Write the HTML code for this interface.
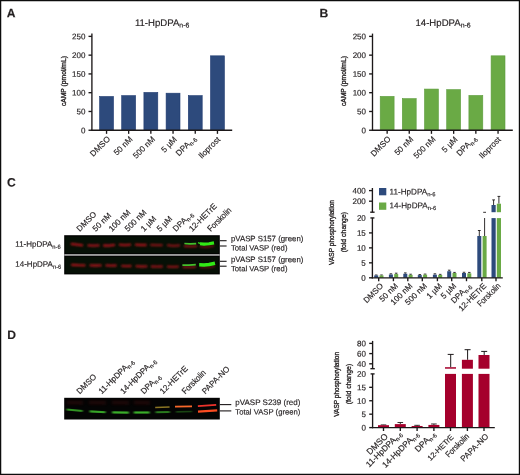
<!DOCTYPE html>
<html><head><meta charset="utf-8"><title>Figure</title>
<style>
html,body{margin:0;padding:0;background:#fff;}
body{width:520px;height:475px;overflow:hidden;}
svg{display:block;font-family:"Liberation Sans",sans-serif;will-change:transform;}
text{stroke:#231f20;stroke-width:0.16px;}
</style></head><body>
<svg width="520" height="475" viewBox="0 0 520 475">
<rect x="0" y="0" width="520" height="475" fill="#fff"/>
<text transform="translate(6.8,17.25) rotate(0.03)" font-size="12.1" text-anchor="start" font-weight="bold" fill="#231f20">A</text>
<text transform="translate(134.9,26) rotate(0.03)" font-size="9.6" text-anchor="start" fill="#231f20">11-HpDPA<tspan font-size="6.9" dy="1.4">n-6</tspan></text>
<rect x="99.60" y="96.49" width="13.90" height="33.76" fill="#2d4a7c" stroke="#1e3a70" stroke-width="0.6"/>
<rect x="121.70" y="95.63" width="13.90" height="34.62" fill="#2d4a7c" stroke="#1e3a70" stroke-width="0.6"/>
<rect x="143.90" y="92.44" width="13.90" height="37.81" fill="#2d4a7c" stroke="#1e3a70" stroke-width="0.6"/>
<rect x="166.10" y="93.19" width="13.90" height="37.06" fill="#2d4a7c" stroke="#1e3a70" stroke-width="0.6"/>
<rect x="188.30" y="95.63" width="13.90" height="34.62" fill="#2d4a7c" stroke="#1e3a70" stroke-width="0.6"/>
<rect x="210.50" y="55.83" width="13.90" height="74.42" fill="#2d4a7c" stroke="#1e3a70" stroke-width="0.6"/>
<line x1="91.9" y1="33.6" x2="91.9" y2="130.85" stroke="#1c1819" stroke-width="1.35" stroke-linecap="butt"/>
<line x1="91.30000000000001" y1="130.25" x2="232.2" y2="130.25" stroke="#1c1819" stroke-width="1.35" stroke-linecap="butt"/>
<line x1="88.5" y1="130.25" x2="91.9" y2="130.25" stroke="#1c1819" stroke-width="1.35" stroke-linecap="butt"/>
<text transform="translate(85.4,133.15) rotate(0.03)" font-size="8" text-anchor="end" fill="#231f20">0</text>
<line x1="88.5" y1="111.475" x2="91.9" y2="111.475" stroke="#1c1819" stroke-width="1.35" stroke-linecap="butt"/>
<text transform="translate(85.4,114.375) rotate(0.03)" font-size="8" text-anchor="end" fill="#231f20">50</text>
<line x1="88.5" y1="92.7" x2="91.9" y2="92.7" stroke="#1c1819" stroke-width="1.35" stroke-linecap="butt"/>
<text transform="translate(85.4,95.60000000000001) rotate(0.03)" font-size="8" text-anchor="end" fill="#231f20">100</text>
<line x1="88.5" y1="73.925" x2="91.9" y2="73.925" stroke="#1c1819" stroke-width="1.35" stroke-linecap="butt"/>
<text transform="translate(85.4,76.825) rotate(0.03)" font-size="8" text-anchor="end" fill="#231f20">150</text>
<line x1="88.5" y1="55.150000000000006" x2="91.9" y2="55.150000000000006" stroke="#1c1819" stroke-width="1.35" stroke-linecap="butt"/>
<text transform="translate(85.4,58.050000000000004) rotate(0.03)" font-size="8" text-anchor="end" fill="#231f20">200</text>
<line x1="88.5" y1="36.375" x2="91.9" y2="36.375" stroke="#1c1819" stroke-width="1.35" stroke-linecap="butt"/>
<text transform="translate(85.4,39.275) rotate(0.03)" font-size="8" text-anchor="end" fill="#231f20">250</text>
<line x1="106.55" y1="130.25" x2="106.55" y2="133.85" stroke="#1c1819" stroke-width="1.35" stroke-linecap="butt"/>
<text transform="translate(110.65,139.55) rotate(-45)" font-size="8.2" text-anchor="end" fill="#231f20">DMSO</text>
<line x1="128.65" y1="130.25" x2="128.65" y2="133.85" stroke="#1c1819" stroke-width="1.35" stroke-linecap="butt"/>
<text transform="translate(133.15,139.75) rotate(-45)" font-size="8.2" text-anchor="end" fill="#231f20">50 nM</text>
<line x1="150.85" y1="130.25" x2="150.85" y2="133.85" stroke="#1c1819" stroke-width="1.35" stroke-linecap="butt"/>
<text transform="translate(155.55,139.75) rotate(-45)" font-size="8.2" text-anchor="end" fill="#231f20">500 nM</text>
<line x1="173.05" y1="130.25" x2="173.05" y2="133.85" stroke="#1c1819" stroke-width="1.35" stroke-linecap="butt"/>
<text transform="translate(177.45,139.95) rotate(-45)" font-size="8.2" text-anchor="end" fill="#231f20">5 µM</text>
<line x1="195.25" y1="130.25" x2="195.25" y2="133.85" stroke="#1c1819" stroke-width="1.35" stroke-linecap="butt"/>
<text transform="translate(196.55,138.95) rotate(-45)" font-size="8.2" text-anchor="end" fill="#231f20">DPA<tspan font-size="5.9" dy="1.8">n-6</tspan></text>
<line x1="217.45" y1="130.25" x2="217.45" y2="133.85" stroke="#1c1819" stroke-width="1.35" stroke-linecap="butt"/>
<text transform="translate(220.75,140.05) rotate(-45)" font-size="8.2" text-anchor="end" fill="#231f20">Iloprost</text>
<text transform="translate(65.8,81.1) rotate(-90) scale(1.037,1)" font-size="6.5" text-anchor="middle" fill="#231f20" style="stroke-width:0.32px">cAMP (pmol/mL)</text>
<text transform="translate(319.4,17.25) rotate(0.03)" font-size="12.1" text-anchor="start" font-weight="bold" fill="#231f20">B</text>
<text transform="translate(415.5,26) rotate(0.03)" font-size="9.6" text-anchor="start" fill="#231f20">14-HpDPA<tspan font-size="6.9" dy="1.4">n-6</tspan></text>
<rect x="380.20" y="96.38" width="13.90" height="33.87" fill="#6aaa45" stroke="#5c9c3c" stroke-width="0.6"/>
<rect x="402.30" y="98.63" width="13.90" height="31.62" fill="#6aaa45" stroke="#5c9c3c" stroke-width="0.6"/>
<rect x="424.50" y="89.06" width="13.90" height="41.19" fill="#6aaa45" stroke="#5c9c3c" stroke-width="0.6"/>
<rect x="446.70" y="89.62" width="13.90" height="40.63" fill="#6aaa45" stroke="#5c9c3c" stroke-width="0.6"/>
<rect x="468.90" y="95.44" width="13.90" height="34.81" fill="#6aaa45" stroke="#5c9c3c" stroke-width="0.6"/>
<rect x="491.10" y="55.83" width="13.90" height="74.42" fill="#6aaa45" stroke="#5c9c3c" stroke-width="0.6"/>
<line x1="372.5" y1="33.6" x2="372.5" y2="130.85" stroke="#1c1819" stroke-width="1.35" stroke-linecap="butt"/>
<line x1="371.9" y1="130.25" x2="512.8" y2="130.25" stroke="#1c1819" stroke-width="1.35" stroke-linecap="butt"/>
<line x1="369.1" y1="130.25" x2="372.5" y2="130.25" stroke="#1c1819" stroke-width="1.35" stroke-linecap="butt"/>
<text transform="translate(366.0,133.15) rotate(0.03)" font-size="8" text-anchor="end" fill="#231f20">0</text>
<line x1="369.1" y1="111.475" x2="372.5" y2="111.475" stroke="#1c1819" stroke-width="1.35" stroke-linecap="butt"/>
<text transform="translate(366.0,114.375) rotate(0.03)" font-size="8" text-anchor="end" fill="#231f20">50</text>
<line x1="369.1" y1="92.7" x2="372.5" y2="92.7" stroke="#1c1819" stroke-width="1.35" stroke-linecap="butt"/>
<text transform="translate(366.0,95.60000000000001) rotate(0.03)" font-size="8" text-anchor="end" fill="#231f20">100</text>
<line x1="369.1" y1="73.925" x2="372.5" y2="73.925" stroke="#1c1819" stroke-width="1.35" stroke-linecap="butt"/>
<text transform="translate(366.0,76.825) rotate(0.03)" font-size="8" text-anchor="end" fill="#231f20">150</text>
<line x1="369.1" y1="55.150000000000006" x2="372.5" y2="55.150000000000006" stroke="#1c1819" stroke-width="1.35" stroke-linecap="butt"/>
<text transform="translate(366.0,58.050000000000004) rotate(0.03)" font-size="8" text-anchor="end" fill="#231f20">200</text>
<line x1="369.1" y1="36.375" x2="372.5" y2="36.375" stroke="#1c1819" stroke-width="1.35" stroke-linecap="butt"/>
<text transform="translate(366.0,39.275) rotate(0.03)" font-size="8" text-anchor="end" fill="#231f20">250</text>
<line x1="387.15000000000003" y1="130.25" x2="387.15000000000003" y2="133.85" stroke="#1c1819" stroke-width="1.35" stroke-linecap="butt"/>
<text transform="translate(391.25,139.55) rotate(-45)" font-size="8.2" text-anchor="end" fill="#231f20">DMSO</text>
<line x1="409.25" y1="130.25" x2="409.25" y2="133.85" stroke="#1c1819" stroke-width="1.35" stroke-linecap="butt"/>
<text transform="translate(413.75,139.75) rotate(-45)" font-size="8.2" text-anchor="end" fill="#231f20">50 nM</text>
<line x1="431.45000000000005" y1="130.25" x2="431.45000000000005" y2="133.85" stroke="#1c1819" stroke-width="1.35" stroke-linecap="butt"/>
<text transform="translate(436.15,139.75) rotate(-45)" font-size="8.2" text-anchor="end" fill="#231f20">500 nM</text>
<line x1="453.65000000000003" y1="130.25" x2="453.65000000000003" y2="133.85" stroke="#1c1819" stroke-width="1.35" stroke-linecap="butt"/>
<text transform="translate(458.05,139.95) rotate(-45)" font-size="8.2" text-anchor="end" fill="#231f20">5 µM</text>
<line x1="475.85" y1="130.25" x2="475.85" y2="133.85" stroke="#1c1819" stroke-width="1.35" stroke-linecap="butt"/>
<text transform="translate(477.15,138.95) rotate(-45)" font-size="8.2" text-anchor="end" fill="#231f20">DPA<tspan font-size="5.9" dy="1.8">n-6</tspan></text>
<line x1="498.05" y1="130.25" x2="498.05" y2="133.85" stroke="#1c1819" stroke-width="1.35" stroke-linecap="butt"/>
<text transform="translate(501.35,140.05) rotate(-45)" font-size="8.2" text-anchor="end" fill="#231f20">Iloprost</text>
<text transform="translate(346.40000000000003,81.1) rotate(-90) scale(1.037,1)" font-size="6.5" text-anchor="middle" fill="#231f20" style="stroke-width:0.32px">cAMP (pmol/mL)</text>
<text transform="translate(7.0,186.6) rotate(0.03)" font-size="12.1" text-anchor="start" font-weight="bold" fill="#231f20">C</text>
<defs><filter id="b1" filterUnits="userSpaceOnUse" x="60" y="230" width="165" height="195"><feGaussianBlur stdDeviation="1.0 0.8"/></filter><filter id="b2" filterUnits="userSpaceOnUse" x="60" y="230" width="165" height="195"><feGaussianBlur stdDeviation="0.7 0.55"/></filter><filter id="b3" filterUnits="userSpaceOnUse" x="60" y="230" width="165" height="195"><feGaussianBlur stdDeviation="1.6 1.2"/></filter><filter id="b4" filterUnits="userSpaceOnUse" x="60" y="230" width="165" height="195"><feGaussianBlur stdDeviation="0.9 0.65"/></filter></defs>
<rect x="64.20" y="235.20" width="155.60" height="39.20" fill="#020302"/>
<rect x="65.40" y="236.60" width="153.20" height="16.60" fill="#061006"/>
<rect x="65.40" y="256.80" width="153.20" height="16.40" fill="#061006"/>
<rect x="64.20" y="254.00" width="155.60" height="1.90" fill="#9a9a9a"/>
<g>
<path d="M70.8,243.90 L76.9,244.60 L83.0,245.40" fill="none" stroke="#b0181c" stroke-width="2.3" stroke-linecap="butt" stroke-linejoin="round" opacity="0.95" filter="url(#b1)"/>
<path d="M87.5,245.30 L93.5,245.70 L99.5,245.40" fill="none" stroke="#b0181c" stroke-width="2.3" stroke-linecap="butt" stroke-linejoin="round" opacity="0.9" filter="url(#b1)"/>
<path d="M103.2,245.50 L109.1,245.60 L115.0,244.90" fill="none" stroke="#b0181c" stroke-width="2.3" stroke-linecap="butt" stroke-linejoin="round" opacity="0.95" filter="url(#b1)"/>
<path d="M118.9,244.60 L125.0,245.20 L131.0,244.70" fill="none" stroke="#b0181c" stroke-width="2.3" stroke-linecap="butt" stroke-linejoin="round" opacity="0.9" filter="url(#b1)"/>
<path d="M135.0,244.60 L140.8,245.00 L146.6,245.00" fill="none" stroke="#b0181c" stroke-width="2.3" stroke-linecap="butt" stroke-linejoin="round" opacity="0.9" filter="url(#b1)"/>
<path d="M150.3,244.80 L156.4,245.20 L162.6,245.20" fill="none" stroke="#b0181c" stroke-width="2.3" stroke-linecap="butt" stroke-linejoin="round" opacity="0.75" filter="url(#b1)"/>
<path d="M167.0,245.20 L173.5,245.80 L180.0,245.40" fill="none" stroke="#b0181c" stroke-width="2.3" stroke-linecap="butt" stroke-linejoin="round" opacity="0.75" filter="url(#b1)"/>
<path d="M184.0,246.00 L190.5,246.40 L197.0,246.20" fill="none" stroke="#b0181c" stroke-width="2.3" stroke-linecap="butt" stroke-linejoin="round" opacity="0.75" filter="url(#b1)"/>
<path d="M199.5,246.40 L206.8,247.00 L214.0,245.60" fill="none" stroke="#b0181c" stroke-width="2.3" stroke-linecap="butt" stroke-linejoin="round" opacity="0.5" filter="url(#b1)"/>
<path d="M184.4,243.50 L190.0,243.80 L196.2,243.60" fill="none" stroke="#42c02b" stroke-width="1.7" stroke-linecap="butt" stroke-linejoin="round" opacity="1" filter="url(#b2)"/>
<path d="M198.0,242.60 L200.4,243.50" fill="none" stroke="#34e31a" stroke-width="1.4" stroke-linecap="butt" stroke-linejoin="round" opacity="0.9" filter="url(#b2)"/>
<path d="M200.0,243.80 L204.0,244.10 L209.0,243.80 L214.0,242.90" fill="none" stroke="#30ea18" stroke-width="3.1" stroke-linecap="butt" stroke-linejoin="round" opacity="1" filter="url(#b2)"/>
<path d="M71.2,264.90 L78.3,265.20 L85.4,265.30" fill="none" stroke="#b0181c" stroke-width="2.3" stroke-linecap="butt" stroke-linejoin="round" opacity="0.95" filter="url(#b1)"/>
<path d="M89.6,265.30 L95.6,265.50 L101.6,265.40" fill="none" stroke="#b0181c" stroke-width="2.3" stroke-linecap="butt" stroke-linejoin="round" opacity="0.9" filter="url(#b1)"/>
<path d="M105.5,265.40 L111.0,265.60 L116.6,265.50" fill="none" stroke="#b0181c" stroke-width="2.3" stroke-linecap="butt" stroke-linejoin="round" opacity="0.9" filter="url(#b1)"/>
<path d="M121.3,265.90 L126.4,266.10 L131.5,266.00" fill="none" stroke="#b0181c" stroke-width="2.3" stroke-linecap="butt" stroke-linejoin="round" opacity="0.85" filter="url(#b1)"/>
<path d="M135.6,266.20 L141.5,266.50 L147.4,266.30" fill="none" stroke="#b0181c" stroke-width="2.3" stroke-linecap="butt" stroke-linejoin="round" opacity="0.85" filter="url(#b1)"/>
<path d="M150.9,266.50 L156.9,266.70 L162.8,266.50" fill="none" stroke="#b0181c" stroke-width="2.3" stroke-linecap="butt" stroke-linejoin="round" opacity="0.8" filter="url(#b1)"/>
<path d="M167.0,266.70 L172.9,266.90 L178.8,266.70" fill="none" stroke="#b0181c" stroke-width="2.3" stroke-linecap="butt" stroke-linejoin="round" opacity="0.8" filter="url(#b1)"/>
<path d="M182.8,267.00 L189.4,267.20 L196.0,266.80" fill="none" stroke="#b0181c" stroke-width="2.3" stroke-linecap="butt" stroke-linejoin="round" opacity="0.7" filter="url(#b1)"/>
<path d="M200.0,267.20 L207.5,267.40 L215.0,266.00" fill="none" stroke="#b0181c" stroke-width="2.3" stroke-linecap="butt" stroke-linejoin="round" opacity="0.45" filter="url(#b1)"/>
<path d="M182.4,265.20 L189.0,265.10 L195.8,264.70" fill="none" stroke="#42c02b" stroke-width="1.8" stroke-linecap="butt" stroke-linejoin="round" opacity="1" filter="url(#b2)"/>
<path d="M199.2,264.80 L204.0,264.90 L209.0,264.50 L215.0,263.20" fill="none" stroke="#30ea18" stroke-width="3.5" stroke-linecap="butt" stroke-linejoin="round" opacity="1" filter="url(#b2)"/>
</g>
<line x1="219.8" y1="240.7" x2="226.6" y2="240.7" stroke="#1c1819" stroke-width="1.1" stroke-linecap="butt"/>
<line x1="219.8" y1="246.0" x2="226.6" y2="246.0" stroke="#1c1819" stroke-width="1.1" stroke-linecap="butt"/>
<line x1="219.8" y1="261.3" x2="226.6" y2="261.3" stroke="#1c1819" stroke-width="1.1" stroke-linecap="butt"/>
<line x1="219.8" y1="266.2" x2="226.6" y2="266.2" stroke="#1c1819" stroke-width="1.1" stroke-linecap="butt"/>
<text transform="translate(230.9,241.3) rotate(0.03)" font-size="7.85" text-anchor="start" fill="#231f20">pVASP S157 (green)</text>
<text transform="translate(230.9,250.4) rotate(0.03)" font-size="7.7" text-anchor="start" fill="#231f20">Total VASP (red)</text>
<text transform="translate(230.9,262.1) rotate(0.03)" font-size="7.85" text-anchor="start" fill="#231f20">pVASP S157 (green)</text>
<text transform="translate(230.9,271.3) rotate(0.03)" font-size="7.7" text-anchor="start" fill="#231f20">Total VASP (red)</text>
<text transform="translate(15.3,246.7) rotate(0.03)" font-size="8.0" text-anchor="start" fill="#231f20">11-HpDPA<tspan font-size="5.8" dy="1.9">n-6</tspan></text>
<text transform="translate(15.3,266.7) rotate(0.03)" font-size="8.0" text-anchor="start" fill="#231f20">14-HpDPA<tspan font-size="5.8" dy="1.9">n-6</tspan></text>
<text transform="translate(79.8,232.0) rotate(-45)" font-size="8.1" text-anchor="start" fill="#231f20">DMSO</text>
<text transform="translate(95.85,232.0) rotate(-45)" font-size="8.1" text-anchor="start" fill="#231f20">50 nM</text>
<text transform="translate(111.9,232.0) rotate(-45)" font-size="8.1" text-anchor="start" fill="#231f20">100 nM</text>
<text transform="translate(127.95,232.0) rotate(-45)" font-size="8.1" text-anchor="start" fill="#231f20">500 nM</text>
<text transform="translate(144.0,232.0) rotate(-45)" font-size="8.1" text-anchor="start" fill="#231f20">1 µM</text>
<text transform="translate(160.05,232.0) rotate(-45)" font-size="8.1" text-anchor="start" fill="#231f20">5 µM</text>
<text transform="translate(176.10000000000002,232.0) rotate(-45)" font-size="8.1" text-anchor="start" fill="#231f20">DPA<tspan font-size="5.9" dy="1.8">n-6</tspan></text>
<text transform="translate(192.15,232.0) rotate(-45)" font-size="8.1" text-anchor="start" fill="#231f20">12-HETrE</text>
<text transform="translate(210.79999999999998,232.0) rotate(-45) scale(0.86,1)" font-size="8.6" text-anchor="start" fill="#231f20">Forskolin</text>
<line x1="372.4" y1="188.0" x2="372.4" y2="212.2" stroke="#1c1819" stroke-width="1.35" stroke-linecap="butt"/>
<line x1="370.2" y1="212.2" x2="374.59999999999997" y2="212.2" stroke="#1c1819" stroke-width="1.35" stroke-linecap="butt"/>
<line x1="369.0" y1="190.6" x2="372.4" y2="190.6" stroke="#1c1819" stroke-width="1.35" stroke-linecap="butt"/>
<text transform="translate(365.8,193.5) rotate(0.03)" font-size="8" text-anchor="end" fill="#231f20">400</text>
<line x1="369.0" y1="201.2" x2="372.4" y2="201.2" stroke="#1c1819" stroke-width="1.35" stroke-linecap="butt"/>
<text transform="translate(365.8,204.1) rotate(0.03)" font-size="8" text-anchor="end" fill="#231f20">200</text>
<line x1="372.4" y1="217.9" x2="372.4" y2="278.40000000000003" stroke="#1c1819" stroke-width="1.35" stroke-linecap="butt"/>
<line x1="369.0" y1="277.8" x2="372.4" y2="277.8" stroke="#1c1819" stroke-width="1.35" stroke-linecap="butt"/>
<text transform="translate(365.8,280.7) rotate(0.03)" font-size="8" text-anchor="end" fill="#231f20">0</text>
<line x1="369.0" y1="262.83500000000004" x2="372.4" y2="262.83500000000004" stroke="#1c1819" stroke-width="1.35" stroke-linecap="butt"/>
<text transform="translate(365.8,265.735) rotate(0.03)" font-size="8" text-anchor="end" fill="#231f20">5</text>
<line x1="369.0" y1="247.87" x2="372.4" y2="247.87" stroke="#1c1819" stroke-width="1.35" stroke-linecap="butt"/>
<text transform="translate(365.8,250.77) rotate(0.03)" font-size="8" text-anchor="end" fill="#231f20">10</text>
<line x1="369.0" y1="232.90500000000003" x2="372.4" y2="232.90500000000003" stroke="#1c1819" stroke-width="1.35" stroke-linecap="butt"/>
<text transform="translate(365.8,235.80500000000004) rotate(0.03)" font-size="8" text-anchor="end" fill="#231f20">15</text>
<line x1="370.4" y1="217.94" x2="374.4" y2="217.94" stroke="#1c1819" stroke-width="1.35" stroke-linecap="butt"/>
<text transform="translate(365.8,220.84) rotate(0.03)" font-size="8" text-anchor="end" fill="#231f20">20</text>
<line x1="376.2" y1="275.4056" x2="376.2" y2="274.95665" stroke="#1c1819" stroke-width="0.8" stroke-linecap="butt"/>
<line x1="374.9" y1="274.95665" x2="377.5" y2="274.95665" stroke="#1c1819" stroke-width="0.8" stroke-linecap="butt"/>
<line x1="381.5" y1="275.4056" x2="381.5" y2="274.95665" stroke="#1c1819" stroke-width="0.8" stroke-linecap="butt"/>
<line x1="380.2" y1="274.95665" x2="382.8" y2="274.95665" stroke="#1c1819" stroke-width="0.8" stroke-linecap="butt"/>
<rect x="374.20" y="275.41" width="4.00" height="2.39" fill="#2d4a7c"/>
<rect x="379.50" y="275.41" width="4.00" height="2.39" fill="#6aaa45"/>
<line x1="390.9" y1="274.5077" x2="390.9" y2="273.75945" stroke="#1c1819" stroke-width="0.8" stroke-linecap="butt"/>
<line x1="389.59999999999997" y1="273.75945" x2="392.2" y2="273.75945" stroke="#1c1819" stroke-width="0.8" stroke-linecap="butt"/>
<line x1="396.2" y1="274.05875000000003" x2="396.2" y2="273.16085000000004" stroke="#1c1819" stroke-width="0.8" stroke-linecap="butt"/>
<line x1="394.9" y1="273.16085000000004" x2="397.5" y2="273.16085000000004" stroke="#1c1819" stroke-width="0.8" stroke-linecap="butt"/>
<rect x="388.90" y="274.51" width="4.00" height="3.29" fill="#2d4a7c"/>
<rect x="394.20" y="274.06" width="4.00" height="3.74" fill="#6aaa45"/>
<line x1="405.3" y1="273.75945" x2="405.3" y2="272.86155" stroke="#1c1819" stroke-width="0.8" stroke-linecap="butt"/>
<line x1="404.0" y1="272.86155" x2="406.6" y2="272.86155" stroke="#1c1819" stroke-width="0.8" stroke-linecap="butt"/>
<line x1="410.6" y1="274.807" x2="410.6" y2="274.2084" stroke="#1c1819" stroke-width="0.8" stroke-linecap="butt"/>
<line x1="409.3" y1="274.2084" x2="411.90000000000003" y2="274.2084" stroke="#1c1819" stroke-width="0.8" stroke-linecap="butt"/>
<rect x="403.30" y="273.76" width="4.00" height="4.04" fill="#2d4a7c"/>
<rect x="408.60" y="274.81" width="4.00" height="2.99" fill="#6aaa45"/>
<line x1="419.8" y1="275.10630000000003" x2="419.8" y2="274.5077" stroke="#1c1819" stroke-width="0.8" stroke-linecap="butt"/>
<line x1="418.5" y1="274.5077" x2="421.1" y2="274.5077" stroke="#1c1819" stroke-width="0.8" stroke-linecap="butt"/>
<line x1="425.1" y1="274.65735" x2="425.1" y2="274.05875000000003" stroke="#1c1819" stroke-width="0.8" stroke-linecap="butt"/>
<line x1="423.8" y1="274.05875000000003" x2="426.40000000000003" y2="274.05875000000003" stroke="#1c1819" stroke-width="0.8" stroke-linecap="butt"/>
<rect x="417.80" y="275.11" width="4.00" height="2.69" fill="#2d4a7c"/>
<rect x="423.10" y="274.66" width="4.00" height="3.14" fill="#6aaa45"/>
<line x1="434.9" y1="274.65735" x2="434.9" y2="273.75945" stroke="#1c1819" stroke-width="0.8" stroke-linecap="butt"/>
<line x1="433.59999999999997" y1="273.75945" x2="436.2" y2="273.75945" stroke="#1c1819" stroke-width="0.8" stroke-linecap="butt"/>
<line x1="440.2" y1="274.95665" x2="440.2" y2="274.35805" stroke="#1c1819" stroke-width="0.8" stroke-linecap="butt"/>
<line x1="438.9" y1="274.35805" x2="441.5" y2="274.35805" stroke="#1c1819" stroke-width="0.8" stroke-linecap="butt"/>
<rect x="432.90" y="274.66" width="4.00" height="3.14" fill="#2d4a7c"/>
<rect x="438.20" y="274.96" width="4.00" height="2.84" fill="#6aaa45"/>
<line x1="449.2" y1="271.2154" x2="449.2" y2="270.16785" stroke="#1c1819" stroke-width="0.8" stroke-linecap="butt"/>
<line x1="447.9" y1="270.16785" x2="450.5" y2="270.16785" stroke="#1c1819" stroke-width="0.8" stroke-linecap="butt"/>
<line x1="454.5" y1="273.01120000000003" x2="454.5" y2="272.4126" stroke="#1c1819" stroke-width="0.8" stroke-linecap="butt"/>
<line x1="453.2" y1="272.4126" x2="455.8" y2="272.4126" stroke="#1c1819" stroke-width="0.8" stroke-linecap="butt"/>
<rect x="447.20" y="271.22" width="4.00" height="6.58" fill="#2d4a7c"/>
<rect x="452.50" y="273.01" width="4.00" height="4.79" fill="#6aaa45"/>
<line x1="464.0" y1="273.01120000000003" x2="464.0" y2="272.26295" stroke="#1c1819" stroke-width="0.8" stroke-linecap="butt"/>
<line x1="462.7" y1="272.26295" x2="465.3" y2="272.26295" stroke="#1c1819" stroke-width="0.8" stroke-linecap="butt"/>
<line x1="469.3" y1="273.3105" x2="469.3" y2="272.4126" stroke="#1c1819" stroke-width="0.8" stroke-linecap="butt"/>
<line x1="468.0" y1="272.4126" x2="470.6" y2="272.4126" stroke="#1c1819" stroke-width="0.8" stroke-linecap="butt"/>
<rect x="462.00" y="273.01" width="4.00" height="4.79" fill="#2d4a7c"/>
<rect x="467.30" y="273.31" width="4.00" height="4.49" fill="#6aaa45"/>
<line x1="479.3" y1="236.0" x2="479.3" y2="230.5" stroke="#1c1819" stroke-width="0.9" stroke-linecap="butt"/>
<line x1="477.90000000000003" y1="230.5" x2="480.7" y2="230.5" stroke="#1c1819" stroke-width="0.9" stroke-linecap="butt"/>
<line x1="484.6" y1="236.0" x2="484.6" y2="218.0" stroke="#1c1819" stroke-width="0.9" stroke-linecap="butt"/>
<line x1="483.20000000000005" y1="212.3" x2="486.0" y2="212.3" stroke="#1c1819" stroke-width="0.9" stroke-linecap="butt"/>
<rect x="477.30" y="236.00" width="4.00" height="41.80" fill="#2d4a7c"/>
<rect x="482.60" y="236.00" width="4.00" height="41.80" fill="#6aaa45"/>
<line x1="493.6" y1="205.0" x2="493.6" y2="199.9" stroke="#1c1819" stroke-width="0.9" stroke-linecap="butt"/>
<line x1="492.20000000000005" y1="199.9" x2="495.0" y2="199.9" stroke="#1c1819" stroke-width="0.9" stroke-linecap="butt"/>
<line x1="498.90000000000003" y1="203.7" x2="498.90000000000003" y2="196.4" stroke="#1c1819" stroke-width="0.9" stroke-linecap="butt"/>
<line x1="497.50000000000006" y1="196.4" x2="500.3" y2="196.4" stroke="#1c1819" stroke-width="0.9" stroke-linecap="butt"/>
<rect x="491.50" y="218.10" width="4.20" height="59.70" fill="#2d4a7c"/>
<rect x="496.80" y="218.10" width="4.20" height="59.70" fill="#6aaa45"/>
<rect x="491.50" y="205.00" width="4.20" height="7.20" fill="#2d4a7c"/>
<rect x="496.80" y="203.70" width="4.20" height="8.50" fill="#6aaa45"/>
<line x1="371.79999999999995" y1="277.8" x2="502.8" y2="277.8" stroke="#1c1819" stroke-width="1.35" stroke-linecap="butt"/>
<line x1="378.7" y1="277.8" x2="378.7" y2="281.2" stroke="#1c1819" stroke-width="1.35" stroke-linecap="butt"/>
<text transform="translate(383.8,286.40000000000003) rotate(-45)" font-size="8.1" text-anchor="end" fill="#231f20">DMSO</text>
<line x1="393.4" y1="277.8" x2="393.4" y2="281.2" stroke="#1c1819" stroke-width="1.35" stroke-linecap="butt"/>
<text transform="translate(398.5,286.40000000000003) rotate(-45)" font-size="8.1" text-anchor="end" fill="#231f20">50 nM</text>
<line x1="407.8" y1="277.8" x2="407.8" y2="281.2" stroke="#1c1819" stroke-width="1.35" stroke-linecap="butt"/>
<text transform="translate(412.90000000000003,286.40000000000003) rotate(-45)" font-size="8.1" text-anchor="end" fill="#231f20">100 nM</text>
<line x1="422.3" y1="277.8" x2="422.3" y2="281.2" stroke="#1c1819" stroke-width="1.35" stroke-linecap="butt"/>
<text transform="translate(427.40000000000003,286.40000000000003) rotate(-45)" font-size="8.1" text-anchor="end" fill="#231f20">500 nM</text>
<line x1="437.4" y1="277.8" x2="437.4" y2="281.2" stroke="#1c1819" stroke-width="1.35" stroke-linecap="butt"/>
<text transform="translate(442.5,286.40000000000003) rotate(-45)" font-size="8.1" text-anchor="end" fill="#231f20">1 µM</text>
<line x1="451.7" y1="277.8" x2="451.7" y2="281.2" stroke="#1c1819" stroke-width="1.35" stroke-linecap="butt"/>
<text transform="translate(456.8,286.40000000000003) rotate(-45)" font-size="8.1" text-anchor="end" fill="#231f20">5 µM</text>
<line x1="466.5" y1="277.8" x2="466.5" y2="281.2" stroke="#1c1819" stroke-width="1.35" stroke-linecap="butt"/>
<text transform="translate(471.6,286.40000000000003) rotate(-45)" font-size="8.1" text-anchor="end" fill="#231f20">DPA<tspan font-size="5.9" dy="1.8">n-6</tspan></text>
<line x1="481.8" y1="277.8" x2="481.8" y2="281.2" stroke="#1c1819" stroke-width="1.35" stroke-linecap="butt"/>
<text transform="translate(486.90000000000003,286.40000000000003) rotate(-45)" font-size="8.1" text-anchor="end" fill="#231f20">12-HETrE</text>
<line x1="496.0" y1="277.8" x2="496.0" y2="281.2" stroke="#1c1819" stroke-width="1.35" stroke-linecap="butt"/>
<text transform="translate(501.1,286.40000000000003) rotate(-45) scale(0.86,1)" font-size="8.4" text-anchor="end" fill="#231f20">Forskolin</text>
<rect x="379.00" y="188.00" width="7.30" height="7.30" fill="#2d4a7c"/>
<rect x="379.00" y="202.50" width="7.30" height="7.30" fill="#6aaa45"/>
<text transform="translate(389.5,194.5) rotate(0.03)" font-size="8.15" text-anchor="start" fill="#231f20">11-HpDPA<tspan font-size="5.8" dy="1.7">n-6</tspan></text>
<text transform="translate(389.5,208.3) rotate(0.03)" font-size="8.15" text-anchor="start" fill="#231f20">14-HpDPA<tspan font-size="5.8" dy="1.7">n-6</tspan></text>
<text transform="translate(334.3,232.5) rotate(-90) scale(0.936,1)" font-size="7.0" text-anchor="middle" fill="#231f20" style="stroke-width:0.32px">VASP phosphorylation</text>
<text transform="translate(346.3,232.10000000000002) rotate(-90) scale(0.99,1)" font-size="7.0" text-anchor="middle" fill="#231f20" style="stroke-width:0.32px">(fold change)</text>
<text transform="translate(7.3,338.9) rotate(0.03)" font-size="12.1" text-anchor="start" font-weight="bold" fill="#231f20">D</text>
<rect x="64.20" y="397.80" width="155.60" height="21.70" fill="#040404"/>
<path d="M66.6,409.50 L82.6,410.90" fill="none" stroke="#3aad29" stroke-width="2.0" stroke-linecap="butt" opacity="0.85" filter="url(#b4)"/>
<path d="M89.6,411.40 L105.6,412.20" fill="none" stroke="#3aad29" stroke-width="2.1" stroke-linecap="butt" opacity="0.95" filter="url(#b4)"/>
<path d="M112.2,412.30 L128.8,412.60" fill="none" stroke="#3aad29" stroke-width="2.2" stroke-linecap="butt" opacity="1" filter="url(#b4)"/>
<path d="M133.8,412.50 L149.6,412.50" fill="none" stroke="#3aad29" stroke-width="2.2" stroke-linecap="butt" opacity="1" filter="url(#b4)"/>
<path d="M155.6,412.30 L169.8,412.00" fill="none" stroke="#3aad29" stroke-width="1.9" stroke-linecap="butt" opacity="0.7" filter="url(#b4)"/>
<path d="M176.0,411.80 L192.0,411.50" fill="none" stroke="#3aad29" stroke-width="1.7" stroke-linecap="butt" opacity="0.38" filter="url(#b4)"/>
<path d="M67.0,402.60 L83.0,402.80" fill="none" stroke="#400a0a" stroke-width="4.0" stroke-linecap="butt" opacity="0.4" filter="url(#b3)"/>
<path d="M89.0,402.60 L106.0,402.80" fill="none" stroke="#400a0a" stroke-width="4.0" stroke-linecap="butt" opacity="0.4" filter="url(#b3)"/>
<path d="M112.0,402.60 L129.0,402.80" fill="none" stroke="#400a0a" stroke-width="4.0" stroke-linecap="butt" opacity="0.4" filter="url(#b3)"/>
<path d="M134.0,402.60 L150.0,402.80" fill="none" stroke="#400a0a" stroke-width="4.0" stroke-linecap="butt" opacity="0.4" filter="url(#b3)"/>
<path d="M155.2,407.50 L169.6,407.10" fill="none" stroke="#a38a2a" stroke-width="1.5" stroke-linecap="butt" opacity="0.85" filter="url(#b2)"/>
<path d="M175.0,406.60 L192.0,406.30" fill="none" stroke="#f8682c" stroke-width="1.7" stroke-linecap="butt" opacity="1" filter="url(#b2)"/>
<path d="M197.9,406.10 L216.2,404.80" fill="none" stroke="#ee332c" stroke-width="1.7" stroke-linecap="butt" opacity="1" filter="url(#b2)"/>
<path d="M198.0,411.70 L217.2,410.40" fill="none" stroke="#fb4c20" stroke-width="2.2" stroke-linecap="butt" opacity="1" filter="url(#b2)"/>
<line x1="219.8" y1="404.6" x2="231.3" y2="404.6" stroke="#1c1819" stroke-width="1.1" stroke-linecap="butt"/>
<line x1="219.8" y1="410.9" x2="231.3" y2="410.9" stroke="#1c1819" stroke-width="1.1" stroke-linecap="butt"/>
<text transform="translate(235.3,405.0) rotate(0.03)" font-size="8" text-anchor="start" fill="#231f20">pVASP S239 (red)</text>
<text transform="translate(235.3,414.5) rotate(0.03)" font-size="7.7" text-anchor="start" fill="#231f20">Total VASP (green)</text>
<text transform="translate(79.7,394.5) rotate(-45)" font-size="8.15" text-anchor="start" fill="#231f20">DMSO</text>
<text transform="translate(101.7,394.5) rotate(-45)" font-size="8.15" text-anchor="start" fill="#231f20">11-HpDPA<tspan font-size="5.9" dy="1.8">n-6</tspan></text>
<text transform="translate(123.4,394.5) rotate(-45)" font-size="8.15" text-anchor="start" fill="#231f20">14-HpDPA<tspan font-size="5.9" dy="1.8">n-6</tspan></text>
<text transform="translate(143.9,394.5) rotate(-45)" font-size="8.15" text-anchor="start" fill="#231f20">DPA<tspan font-size="5.9" dy="1.8">n-6</tspan></text>
<text transform="translate(163.0,394.5) rotate(-45)" font-size="8.15" text-anchor="start" fill="#231f20">12-HETrE</text>
<text transform="translate(185.2,394.5) rotate(-45) scale(0.86,1)" font-size="8.6" text-anchor="start" fill="#231f20">Forskolin</text>
<text transform="translate(205.2,394.5) rotate(-45)" font-size="8.15" text-anchor="start" fill="#231f20">PAPA-NO</text>
<line x1="372.6" y1="340.9" x2="372.6" y2="368.7" stroke="#1c1819" stroke-width="1.35" stroke-linecap="butt"/>
<line x1="370.40000000000003" y1="368.7" x2="374.8" y2="368.7" stroke="#1c1819" stroke-width="1.35" stroke-linecap="butt"/>
<line x1="369.20000000000005" y1="343.4" x2="372.6" y2="343.4" stroke="#1c1819" stroke-width="1.35" stroke-linecap="butt"/>
<text transform="translate(366.0,346.29999999999995) rotate(0.03)" font-size="8" text-anchor="end" fill="#231f20">80</text>
<line x1="369.20000000000005" y1="353.6" x2="372.6" y2="353.6" stroke="#1c1819" stroke-width="1.35" stroke-linecap="butt"/>
<text transform="translate(366.0,356.5) rotate(0.03)" font-size="8" text-anchor="end" fill="#231f20">60</text>
<line x1="369.20000000000005" y1="363.8" x2="372.6" y2="363.8" stroke="#1c1819" stroke-width="1.35" stroke-linecap="butt"/>
<text transform="translate(366.0,366.7) rotate(0.03)" font-size="8" text-anchor="end" fill="#231f20">40</text>
<line x1="372.6" y1="373.9" x2="372.6" y2="428.20000000000005" stroke="#1c1819" stroke-width="1.35" stroke-linecap="butt"/>
<line x1="369.20000000000005" y1="427.6" x2="372.6" y2="427.6" stroke="#1c1819" stroke-width="1.35" stroke-linecap="butt"/>
<text transform="translate(366.0,430.5) rotate(0.03)" font-size="8" text-anchor="end" fill="#231f20">0</text>
<line x1="369.20000000000005" y1="414.175" x2="372.6" y2="414.175" stroke="#1c1819" stroke-width="1.35" stroke-linecap="butt"/>
<text transform="translate(366.0,417.075) rotate(0.03)" font-size="8" text-anchor="end" fill="#231f20">5</text>
<line x1="369.20000000000005" y1="400.75" x2="372.6" y2="400.75" stroke="#1c1819" stroke-width="1.35" stroke-linecap="butt"/>
<text transform="translate(366.0,403.65) rotate(0.03)" font-size="8" text-anchor="end" fill="#231f20">10</text>
<line x1="369.20000000000005" y1="387.32500000000005" x2="372.6" y2="387.32500000000005" stroke="#1c1819" stroke-width="1.35" stroke-linecap="butt"/>
<text transform="translate(366.0,390.225) rotate(0.03)" font-size="8" text-anchor="end" fill="#231f20">15</text>
<line x1="370.6" y1="373.90000000000003" x2="374.6" y2="373.90000000000003" stroke="#1c1819" stroke-width="1.35" stroke-linecap="butt"/>
<text transform="translate(366.0,376.8) rotate(0.03)" font-size="8" text-anchor="end" fill="#231f20">20</text>
<line x1="383.5" y1="425.18350000000004" x2="383.5" y2="424.915" stroke="#1c1819" stroke-width="0.9" stroke-linecap="butt"/>
<line x1="380.7" y1="424.915" x2="386.3" y2="424.915" stroke="#1c1819" stroke-width="0.9" stroke-linecap="butt"/>
<rect x="378.00" y="425.18" width="11.00" height="2.42" fill="#a5002c"/>
<line x1="400.3" y1="424.1095" x2="400.3" y2="422.49850000000004" stroke="#1c1819" stroke-width="0.9" stroke-linecap="butt"/>
<line x1="397.5" y1="422.49850000000004" x2="403.1" y2="422.49850000000004" stroke="#1c1819" stroke-width="0.9" stroke-linecap="butt"/>
<rect x="394.80" y="424.11" width="11.00" height="3.49" fill="#a5002c"/>
<line x1="417.1" y1="425.98900000000003" x2="417.1" y2="425.31775000000005" stroke="#1c1819" stroke-width="0.9" stroke-linecap="butt"/>
<line x1="414.3" y1="425.31775000000005" x2="419.90000000000003" y2="425.31775000000005" stroke="#1c1819" stroke-width="0.9" stroke-linecap="butt"/>
<rect x="411.60" y="425.99" width="11.00" height="1.61" fill="#a5002c"/>
<line x1="433.9" y1="424.915" x2="433.9" y2="423.97525" stroke="#1c1819" stroke-width="0.9" stroke-linecap="butt"/>
<line x1="431.09999999999997" y1="423.97525" x2="436.7" y2="423.97525" stroke="#1c1819" stroke-width="0.9" stroke-linecap="butt"/>
<rect x="428.40" y="424.92" width="11.00" height="2.69" fill="#a5002c"/>
<line x1="450.7" y1="367.2" x2="450.7" y2="354.4" stroke="#1c1819" stroke-width="1.0" stroke-linecap="butt"/>
<line x1="447.7" y1="354.4" x2="453.7" y2="354.4" stroke="#1c1819" stroke-width="1.0" stroke-linecap="butt"/>
<rect x="445.00" y="373.90" width="11.00" height="53.70" fill="#a5002c"/>
<rect x="445.00" y="367.20" width="11.00" height="1.50" fill="#a5002c"/>
<line x1="467.59999999999997" y1="359.8" x2="467.59999999999997" y2="349.7" stroke="#1c1819" stroke-width="1.0" stroke-linecap="butt"/>
<line x1="464.59999999999997" y1="349.7" x2="470.59999999999997" y2="349.7" stroke="#1c1819" stroke-width="1.0" stroke-linecap="butt"/>
<rect x="461.90" y="373.90" width="11.00" height="53.70" fill="#a5002c"/>
<rect x="461.90" y="359.80" width="11.00" height="8.90" fill="#a5002c"/>
<line x1="484.2" y1="355.0" x2="484.2" y2="351.4" stroke="#1c1819" stroke-width="1.0" stroke-linecap="butt"/>
<line x1="481.2" y1="351.4" x2="487.2" y2="351.4" stroke="#1c1819" stroke-width="1.0" stroke-linecap="butt"/>
<rect x="478.50" y="373.90" width="11.00" height="53.70" fill="#a5002c"/>
<rect x="478.50" y="355.00" width="11.00" height="13.70" fill="#a5002c"/>
<line x1="372.0" y1="427.6" x2="494.8" y2="427.6" stroke="#1c1819" stroke-width="1.35" stroke-linecap="butt"/>
<line x1="383.5" y1="427.6" x2="383.5" y2="431.0" stroke="#1c1819" stroke-width="1.35" stroke-linecap="butt"/>
<text transform="translate(388.5,436.9) rotate(-45)" font-size="8.7" text-anchor="end" fill="#231f20">DMSO</text>
<line x1="400.3" y1="427.6" x2="400.3" y2="431.0" stroke="#1c1819" stroke-width="1.35" stroke-linecap="butt"/>
<text transform="translate(402.4,434.5) rotate(-45)" font-size="8.3" text-anchor="end" fill="#231f20">11-HpDPA<tspan font-size="5.9" dy="1.8">n-6</tspan></text>
<line x1="417.1" y1="427.6" x2="417.1" y2="431.0" stroke="#1c1819" stroke-width="1.35" stroke-linecap="butt"/>
<text transform="translate(419.2,434.6) rotate(-45)" font-size="8.3" text-anchor="end" fill="#231f20">14-HpDPA<tspan font-size="5.9" dy="1.8">n-6</tspan></text>
<line x1="433.9" y1="427.6" x2="433.9" y2="431.0" stroke="#1c1819" stroke-width="1.35" stroke-linecap="butt"/>
<text transform="translate(436.0,434.6) rotate(-45)" font-size="8.45" text-anchor="end" fill="#231f20">DPA<tspan font-size="5.9" dy="1.8">n-6</tspan></text>
<line x1="450.5" y1="427.6" x2="450.5" y2="431.0" stroke="#1c1819" stroke-width="1.35" stroke-linecap="butt"/>
<text transform="translate(454.2,437.6) rotate(-45)" font-size="7.6" text-anchor="end" fill="#231f20">12-HETrE</text>
<line x1="467.4" y1="427.6" x2="467.4" y2="431.0" stroke="#1c1819" stroke-width="1.35" stroke-linecap="butt"/>
<text transform="translate(469.7,436.9) rotate(-45) scale(0.86,1)" font-size="8.5" text-anchor="end" fill="#231f20">Forskolin</text>
<line x1="484.0" y1="427.6" x2="484.0" y2="431.0" stroke="#1c1819" stroke-width="1.35" stroke-linecap="butt"/>
<text transform="translate(489.0,436.9) rotate(-45)" font-size="8.2" text-anchor="end" fill="#231f20">PAPA-NO</text>
<text transform="translate(339.4,384.4) rotate(-90) scale(0.936,1)" font-size="7.0" text-anchor="middle" fill="#231f20" style="stroke-width:0.32px">VASP phosphorylation</text>
<text transform="translate(350.9,384.0) rotate(-90) scale(0.99,1)" font-size="7.0" text-anchor="middle" fill="#231f20" style="stroke-width:0.32px">(fold change)</text>
<path d="M0,0H520V475H0Z M1.25,1.15V473.75H518.8V1.15Z" fill="#0d0d0d" fill-rule="evenodd"/>
</svg>
</body></html>
